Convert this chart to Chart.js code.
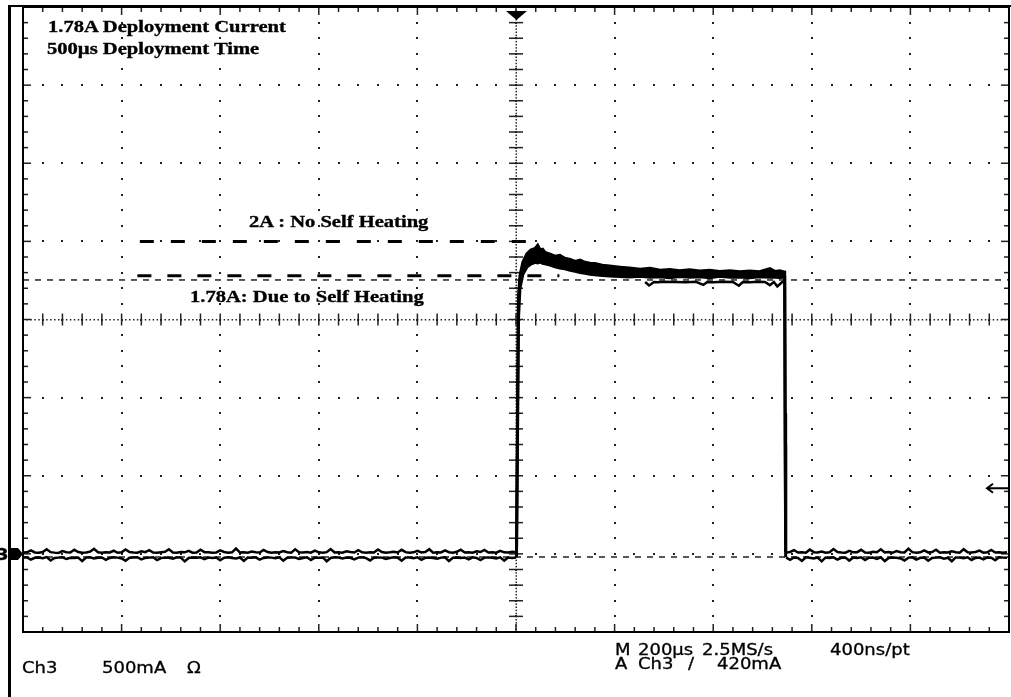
<!DOCTYPE html>
<html>
<head>
<meta charset="utf-8">
<title>1.78A Deployment Current</title>
<script src="https://cdn.jsdelivr.net/npm/chart.js@4.4.1/dist/chart.umd.min.js"></script>
<style>
  html, body { margin: 0; padding: 0; background: #fff; }
  #wrap { position: relative; width: 1011px; height: 697px; overflow: hidden; }
  #scope { position: absolute; left: 0; top: 0; }
  .frame { position: absolute; left: 8px; top: 5px; right: -4px; bottom: -4px; border-top: 2px solid #000; border-left: 3px solid #000; pointer-events: none; }
  .note { position: absolute; font: bold 17px/17px "Liberation Serif", "Times New Roman", serif; color: #000; white-space: nowrap; transform: scaleX(1.21); transform-origin: 0 0; -webkit-text-stroke: 0.35px #000; }
  .readout { position: absolute; font: 15px/15px "DejaVu Sans", sans-serif; color: #000; white-space: nowrap; transform: scaleX(1.2); transform-origin: 0 0; -webkit-text-stroke: 0.3px #000; }
</style>
</head>
<body>
<div id="wrap">
  <canvas id="scope" width="1011" height="697"></canvas>
  <div class="frame"></div>

  <div class="note" style="left:48px; top:18px;">1.78A Deployment Current</div>
  <div class="note" style="left:47px; top:40px;">500µs Deployment Time</div>
  <div class="note" style="left:249px; top:213px;">2A : No Self Heating</div>
  <div class="note" style="left:190px; top:288px;">1.78A: Due to Self Heating</div>

  <div class="readout" style="left:-4px; top:548px; font-weight:bold;">3</div>

  <div class="readout" style="left:615px; top:643px;">M</div>
  <div class="readout" style="left:638px; top:643px;">200µs</div>
  <div class="readout" style="left:702px; top:643px;">2.5MS/s</div>
  <div class="readout" style="left:830px; top:643px;">400ns/pt</div>
  <div class="readout" style="left:615px; top:657px;">A</div>
  <div class="readout" style="left:638px; top:657px;">Ch3</div>
  <div class="readout" style="left:688px; top:657px;">/</div>
  <div class="readout" style="left:717px; top:657px;">420mA</div>
  <div class="readout" style="left:22px; top:661px;">Ch3</div>
  <div class="readout" style="left:102px; top:661px;">500mA</div>
  <div class="readout" style="left:187px; top:661px;">Ω</div>
</div>

<script>
// ============ Data ============
// 10 divisions of 200 µs across, 8 divisions of 500 mA up (Ch3 ground = 0 mA)
const xTicksUs = [0, 200, 400, 600, 800, 1000, 1200, 1400, 1600, 1800, 2000];
const yTicksMa = [-500, 0, 500, 1000, 1500, 2000, 2500, 3000, 3500];

const triggerTimeUs = 1000;
const triggerLevelMa = 420;

// baseline before the pulse, one reading every 8 µs from 0 µs (upper / lower edge of the trace)
const sampleStepUs = 8;
const leftStartUs = 0;
const leftUpperMa = [
  8, 10, 22, 9, 7, 12, 30, 11, 8, 6, 18, 10, 9, 26, 12, 7, 9, 14, 32, 10,
  8, 11, 9, 20, 7, 10, 28, 12, 9, 8, 16, 11, 24, 9, 7, 10, 13, 30, 9, 8,
  12, 10, 19, 8, 9, 27, 11, 10, 7, 9, 22, 12, 8, 10, 34, 9, 11, 8, 15, 10,
  9, 25, 12, 7, 10, 9, 18, 11, 8, 29, 10, 9, 12, 8, 21, 10, 7, 11, 31, 9,
  10, 8, 17, 12, 9, 24, 10, 8, 11, 9, 28, 12, 7, 10, 14, 9, 26, 11, 8, 10,
  19, 9, 12, 30, 8, 10, 9, 22, 11, 8, 13, 27, 9, 10, 8, 16, 12, 25, 9, 11,
  8, 20, 10, 9, 14, 10
];
const leftLowerMa = [
  -24, -22, -36, -25, -23, -28, -21, -42, -26, -24, -22, -33, -25, -27, -23, -46, -24, -22, -30, -25,
  -23, -38, -26, -22, -24, -29, -44, -25, -23, -21, -35, -26, -24, -22, -40, -27, -23, -25, -31, -22,
  -24, -48, -26, -23, -25, -22, -34, -24, -27, -23, -41, -25, -22, -26, -29, -23, -45, -24, -25, -22,
  -37, -26, -23, -24, -28, -22, -43, -25, -24, -23, -32, -26, -22, -39, -24, -25, -23, -47, -26, -22,
  -24, -30, -23, -25, -36, -24, -22, -27, -42, -25, -23, -24, -33, -26, -22, -25, -44, -23, -24, -28,
  -22, -38, -25, -23, -26, -31, -24, -22, -46, -25, -23, -27, -24, -35, -22, -26, -40, -24, -23, -25,
  -29, -22, -43, -24, -26, -23
];

// the deployment pulse
const pulseTimesUs = [
  1001, 1003, 1005, 1008, 1014, 1022, 1030, 1039, 1044, 1049,
  1054, 1059, 1069, 1079, 1089, 1099, 1110, 1120, 1130, 1140,
  1150, 1160, 1175, 1190, 1211, 1230, 1252, 1272, 1292, 1312,
  1332, 1352, 1373, 1393, 1413, 1434, 1454, 1474, 1494, 1515,
  1525, 1535, 1542, 1545, 1546, 1547
];
const pulseUpperMa = [
  12, 900, 1650, 1780, 1868, 1920, 1945, 1955, 1975, 1945,
  1950, 1930, 1918, 1905, 1910, 1892, 1885, 1872, 1880, 1866,
  1860, 1858, 1848, 1842, 1835, 1830, 1822, 1828, 1816, 1820,
  1812, 1818, 1810, 1815, 1808, 1812, 1805, 1810, 1806, 1825,
  1808, 1812, 1806, 1804, 900, 12
];
const pulseLowerMa = [
  -22, 700, 1500, 1700, 1790, 1835, 1855, 1866, 1862, 1868,
  1860, 1856, 1848, 1838, 1830, 1824, 1815, 1808, 1800, 1796,
  1790, 1786, 1781, 1778, 1775, 1772, 1776, 1770, 1774, 1768,
  1775, 1770, 1773, 1768, 1776, 1770, 1772, 1767, 1774, 1770,
  1772, 1768, 1772, 1770, 700, -22
];
// lower noise line under the settled part of the pulse
const floorTimesUs = [1262, 1270, 1280, 1288, 1300, 1320, 1345, 1365, 1380, 1388, 1400, 1420, 1440, 1452, 1460, 1475, 1490, 1505, 1515, 1523, 1530, 1540, 1545];
const floorMa = [1740, 1718, 1740, 1738, 1741, 1740, 1739, 1741, 1722, 1740, 1739, 1741, 1740, 1716, 1740, 1739, 1741, 1740, 1720, 1740, 1712, 1740, 1740];

// baseline after the pulse, every 8 µs from 1548 µs
const rightStartUs = 1548;
const rightUpperMa = [
  8, 12, 24, 9, 10, 7, 28, 11, 9, 15, 8, 10, 31, 12, 9, 8, 20, 10, 11, 26,
  9, 8, 13, 10, 29, 9, 12, 8, 18, 10, 9, 33, 11, 8, 10, 22, 9, 12, 27, 8,
  10, 9, 16, 11, 8, 30, 10, 9, 12, 21, 8, 10, 25, 9, 11, 8, 10
];
const rightLowerMa = [
  -24, -38, -23, -26, -45, -22, -25, -30, -24, -48, -23, -26, -22, -36, -25, -24, -43, -23, -27, -22,
  -40, -25, -24, -33, -22, -46, -26, -23, -25, -29, -42, -24, -22, -37, -25, -23, -44, -26, -24, -22,
  -31, -25, -47, -23, -24, -28, -22, -39, -26, -24, -35, -23, -25, -41, -22, -24, -25
];

// scope cursors (full width) and hand-drawn reference levels
const cursorLevelsMa = [1753, -20];
const noHeatLevelMa = 2000;
const noHeatSpanUs = [237, 1030];
const selfHeatLevelMa = 1780;
const selfHeatSpanUs = [232, 1088];

// ============ Configuration ============
const CONFIG = {
    ink: '#000',
    gridColor: '#222',
    traceWidth: 2.5,
    xMinorUs: 40,
    yMinorMa: 100,
    xFineUs: 8,
    yFineMa: 20
};

// ============ Utilities ============
const sampled = (start, values) => values.map((v, i) => ({ x: start + i * sampleStepUs, y: v }));
const paired = (times, values) => values.map((v, i) => ({ x: times[i], y: v }));

const trace = (label, data, extra = {}) => ({
    label,
    data,
    borderColor: CONFIG.ink,
    backgroundColor: CONFIG.ink,
    borderWidth: CONFIG.traceWidth,
    pointRadius: 0,
    tension: 0,
    fill: false,
    ...extra
});

// ============ Graticule / markers ============
const graticulePlugin = {
    id: 'graticule',
    beforeDatasetsDraw(chart) {
        const { ctx, chartArea: a, scales: { x, y } } = chart;
        const xMin = xTicksUs[0], xMax = xTicksUs[xTicksUs.length - 1];
        const yMin = yTicksMa[0], yMax = yTicksMa[yTicksMa.length - 1];
        const xc = x.getPixelForValue(triggerTimeUs);
        const yc = y.getPixelForValue((yMin + yMax) / 2);
        const dot = (px, py) => ctx.fillRect(Math.round(px) - 1, Math.round(py) - 1, 2, 2);

        ctx.save();
        ctx.fillStyle = CONFIG.gridColor;

        // dotted division lines
        xTicksUs.slice(1, -1).forEach(t => {
            const px = x.getPixelForValue(t);
            for (let v = yMin; v <= yMax; v += CONFIG.yMinorMa) dot(px, y.getPixelForValue(v));
        });
        yTicksMa.slice(1, -1).forEach(v => {
            const py = y.getPixelForValue(v);
            for (let t = xMin; t <= xMax; t += CONFIG.xMinorUs) dot(x.getPixelForValue(t), py);
        });

        // centre axes: fine dots with cross ticks
        for (let v = yMin; v <= yMax; v += CONFIG.yFineMa) ctx.fillRect(xc - 0.5, y.getPixelForValue(v) - 0.5, 1.5, 1.5);
        for (let t = xMin; t <= xMax; t += CONFIG.xFineUs) ctx.fillRect(x.getPixelForValue(t) - 0.5, yc - 0.5, 1.5, 1.5);
        for (let v = yMin; v <= yMax; v += CONFIG.yMinorMa) {
            const py = y.getPixelForValue(v);
            ctx.fillRect(xc - 7, py - 0.75, 14, 1.5);
        }
        for (let t = xMin; t <= xMax; t += CONFIG.xMinorUs) {
            const px = x.getPixelForValue(t);
            ctx.fillRect(px - 0.75, yc - 6, 1.5, 12);
        }

        // edge ticks
        for (let v = yMin; v <= yMax; v += CONFIG.yMinorMa) {
            const py = y.getPixelForValue(v);
            const len = yTicksMa.includes(v) ? 8 : 5;
            ctx.fillRect(a.left, py - 0.75, len, 1.5);
            ctx.fillRect(a.right - len, py - 0.75, len, 1.5);
        }
        for (let t = xMin; t <= xMax; t += CONFIG.xMinorUs) {
            const px = x.getPixelForValue(t);
            const len = xTicksUs.includes(t) ? 8 : 5;
            ctx.fillRect(px - 0.75, a.bottom - len, 1.5, len);
            ctx.fillRect(px - 0.75, a.top, 1.5, len);
        }
        ctx.restore();
    },
    afterDatasetsDraw(chart) {
        const { ctx, chartArea: a, scales: { x, y } } = chart;
        ctx.save();
        ctx.strokeStyle = CONFIG.ink;
        ctx.fillStyle = CONFIG.ink;

        // screen border
        ctx.lineWidth = 2;
        ctx.strokeRect(a.left, a.top, a.right - a.left, a.bottom - a.top);

        // trigger position marker
        const xt = x.getPixelForValue(triggerTimeUs);
        ctx.beginPath();
        ctx.moveTo(xt - 10, a.top + 4);
        ctx.lineTo(xt + 11, a.top + 4);
        ctx.lineTo(xt + 0.5, a.top + 13);
        ctx.closePath();
        ctx.fill();

        // trigger level arrow
        const yl = y.getPixelForValue(triggerLevelMa);
        ctx.lineWidth = 2;
        ctx.beginPath();
        ctx.moveTo(a.right, yl);
        ctx.lineTo(a.right - 22, yl);
        ctx.moveTo(a.right - 16, yl - 4.5);
        ctx.lineTo(a.right - 22, yl);
        ctx.lineTo(a.right - 16, yl + 4.5);
        ctx.stroke();

        // ch3 ground marker
        const yg = y.getPixelForValue(0);
        ctx.beginPath();
        ctx.moveTo(a.left - 12, yg - 6);
        ctx.lineTo(a.left - 5, yg - 6);
        ctx.lineTo(a.left, yg);
        ctx.lineTo(a.left - 5, yg + 6);
        ctx.lineTo(a.left - 12, yg + 6);
        ctx.closePath();
        ctx.fill();
        ctx.restore();
    }
};

// ============ Chart ============
const datasets = [
    trace('baseline upper', sampled(leftStartUs, leftUpperMa)),
    trace('baseline lower', sampled(leftStartUs, leftLowerMa)),
    trace('pulse upper', paired(pulseTimesUs, pulseUpperMa), { fill: '+1', borderWidth: 3 }),
    trace('pulse lower', paired(pulseTimesUs, pulseLowerMa), { borderWidth: 3 }),
    trace('pulse floor', paired(floorTimesUs, floorMa)),
    trace('tail upper', sampled(rightStartUs, rightUpperMa)),
    trace('tail lower', sampled(rightStartUs, rightLowerMa)),
    ...cursorLevelsMa.map((level, i) => trace('cursor ' + (i + 1), [
        { x: xTicksUs[0], y: level },
        { x: xTicksUs[xTicksUs.length - 1], y: level }
    ], { borderWidth: 1.3, borderDash: [6, 6] })),
    trace('2A : No Self Heating', [
        { x: noHeatSpanUs[0], y: noHeatLevelMa },
        { x: noHeatSpanUs[1], y: noHeatLevelMa }
    ], { borderWidth: 3, borderDash: [14, 17], borderCapStyle: 'butt' }),
    trace('1.78A: Due to Self Heating', [
        { x: selfHeatSpanUs[0], y: selfHeatLevelMa },
        { x: selfHeatSpanUs[1], y: selfHeatLevelMa }
    ], { borderWidth: 3, borderDash: [14, 16], borderCapStyle: 'butt' })
];

new Chart(document.getElementById('scope').getContext('2d'), {
    type: 'line',
    data: { datasets },
    options: {
        responsive: false,
        animation: false,
        events: [],
        layout: { padding: { left: 23, right: 2, top: 7, bottom: 65 } },
        plugins: {
            legend: { display: false },
            tooltip: { enabled: false }
        },
        scales: {
            x: { type: 'linear', min: xTicksUs[0], max: xTicksUs[xTicksUs.length - 1], display: false },
            y: { type: 'linear', min: yTicksMa[0], max: yTicksMa[yTicksMa.length - 1], display: false }
        }
    },
    plugins: [graticulePlugin]
});
</script>
</body>
</html>
